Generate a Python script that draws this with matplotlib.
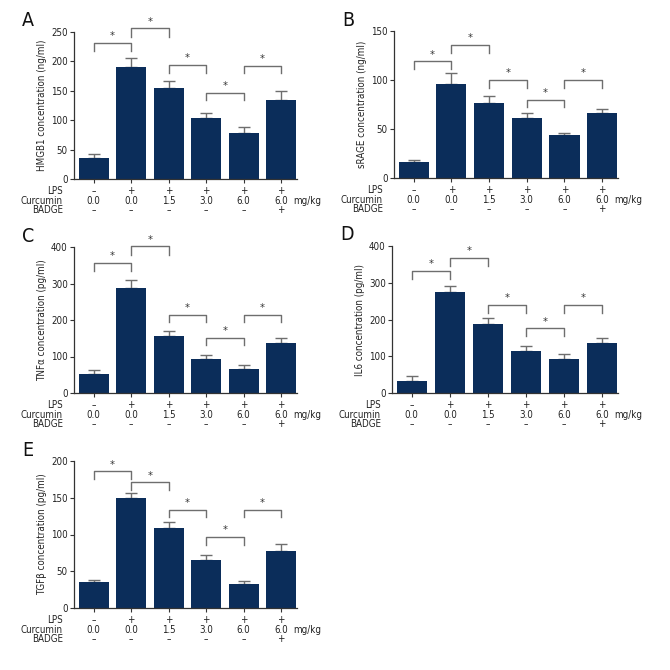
import matplotlib
matplotlib.use("Agg")
import matplotlib.pyplot as plt
from matplotlib import font_manager as fm

cands = [f for f in fm.fontManager.ttflist
         if ('Narrow' in f.name or 'ondensed' in str(f.stretch) or 'Condensed' in f.fname)]
if any(f.name == 'Liberation Sans Narrow' for f in cands):
    FAM = ['Liberation Sans Narrow', 'DejaVu Sans']
    STRETCH = 'normal'
elif any(f.name == 'DejaVu Sans' for f in cands):
    FAM = ['DejaVu Sans']
    STRETCH = 'condensed'
else:
    FAM = ['DejaVu Sans']
    STRETCH = 'normal'
plt.rcParams['font.family'] = FAM
plt.rcParams['font.stretch'] = STRETCH

# ---- data ----
groups = [0, 1, 2, 3, 4, 5]
lps_row = ["–", "+", "+", "+", "+", "+"]
curcumin_row = ["0.0", "0.0", "1.5", "3.0", "6.0", "6.0"]
badge_row = ["–", "–", "–", "–", "–", "+"]

hmgb1_mean = [36, 190, 155, 104, 79, 135]
hmgb1_err = [7, 15, 12, 9, 10, 15]
srage_mean = [16, 96, 77, 61, 43.5, 66]
srage_err = [2.5, 11, 7, 5, 2.5, 4]
tnfa_mean = [52, 289, 155, 93, 66, 136]
tnfa_err = [10, 21, 14, 12, 12, 16]
il6_mean = [33, 274, 187, 114, 92, 136]
il6_err = [12, 18, 18, 15, 14, 15]
tgfb_mean = [35, 149, 109, 65, 32, 78]
tgfb_err = [3.5, 8, 7.5, 7, 5, 9.5]

ylabels = ["HMGB1 concentration (ng/ml)", "sRAGE concentration (ng/ml)",
           "TNFα concentration (pg/ml)", "IL6 concentration (pg/ml)",
           "TGFβ concentration (pg/ml)"]
letters = ["A", "B", "C", "D", "E"]
yticks = [[0, 50, 100, 150, 200, 250], [0, 50, 100, 150], [0, 100, 200, 300, 400],
          [0, 100, 200, 300, 400], [0, 50, 100, 150, 200]]

# significance brackets: (i, j, top y, leg bottom y)
brackets_A = [(0, 1, 232, 218), (1, 2, 256, 242), (2, 3, 194, 181), (3, 4, 147, 134), (4, 5, 192, 180)]
brackets_B = [(0, 1, 119, 111.5), (1, 2, 136, 128), (2, 3, 100, 92), (3, 4, 80, 72), (4, 5, 100, 92)]
brackets_C = [(0, 1, 356, 334), (1, 2, 402, 379), (2, 3, 215, 195), (3, 4, 152, 131), (4, 5, 215, 195)]
brackets_D = [(0, 1, 333, 311), (1, 2, 368, 346), (2, 3, 239, 217), (3, 4, 176, 154), (4, 5, 239, 217)]
brackets_E = [(0, 1, 186, 175), (1, 2, 171, 160), (2, 3, 134, 124), (3, 4, 97, 86), (4, 5, 134, 124)]

panels = [
    (hmgb1_mean, hmgb1_err, brackets_A, [74, 32, 297, 179]),
    (srage_mean, srage_err, brackets_B, [394, 31, 618, 178]),
    (tnfa_mean, tnfa_err, brackets_C, [74, 247, 297, 393]),
    (il6_mean, il6_err, brackets_D, [392, 246, 618, 393]),
    (tgfb_mean, tgfb_err, brackets_E, [74, 461, 297, 608]),
]

BAR = '#0b2d5a'
GREY = '#6e6e6e'
TXT = '#222222'
FS = 7.0
W = H = 670.0

fig = plt.figure(figsize=(6.7, 6.7), dpi=100)
for k, (mean, err, brk, box) in enumerate(panels):
    x0, y0, x1, y1 = box
    ax = fig.add_axes([x0 / W, 1 - y1 / H, (x1 - x0) / W, (y1 - y0) / H])
    ax.bar(groups, mean, width=0.8, color=BAR, zorder=2)
    ax.errorbar(groups, mean, yerr=[[0] * 6, err], fmt='none', ecolor=GREY,
                elinewidth=1.0, capsize=4.5, capthick=1.0, zorder=1)
    ymax = yticks[k][-1]
    ax.set_ylim(0, ymax)
    ax.set_xlim(-0.52, 5.42)
    ax.set_yticks(yticks[k])
    ax.set_yticklabels([str(t) for t in yticks[k]], fontsize=FS, color=TXT)
    ax.set_xticks(groups)
    ax.set_xticklabels([])
    ax.tick_params(axis='both', length=3, width=0.8, color='#333333', pad=1.5)
    for s in ['top', 'right']:
        ax.spines[s].set_visible(False)
    for s in ['left', 'bottom']:
        ax.spines[s].set_linewidth(0.9)
        ax.spines[s].set_color('#333333')
    ax.set_ylabel(ylabels[k], fontsize=FS, labelpad=3, color=TXT)
    for (i, j, top, low) in brk:
        ax.plot([i, i, j, j], [low, top, top, low], color=GREY, lw=1.0, clip_on=False)
        ax.text((i + j) / 2, top + ymax * 0.012, "*", ha='center', va='bottom',
                fontsize=8, color='#333333', clip_on=False)
    # treatment rows below axis (pixel offsets below the x axis)
    hpx = (y1 - y0)
    wpx = (x1 - x0)
    rows = [("LPS", lps_row, 12), ("Curcumin", curcumin_row, 22), ("BADGE", badge_row, 31)]
    tr = ax.get_xaxis_transform()
    for name, vals, off in rows:
        yf = -off / hpx
        ax.text(-11 / wpx, yf, name, transform=ax.transAxes,
                ha='right', va='center', fontsize=FS, color=TXT, clip_on=False)
        for g, v in zip(groups, vals):
            ax.text(g, yf, v, transform=tr, ha='center', va='center',
                    fontsize=FS, color=TXT, clip_on=False)
    ax.text(5.33, -22 / hpx, "mg/kg", transform=tr, ha='left',
            va='center', fontsize=FS, color=TXT, clip_on=False)
    # panel letter
    fig.text((x0 - 52) / W, 1 - (y0 - 11) / H, letters[k], fontsize=14,
             ha='left', va='center', color='#111111')

fig.savefig("out.png", dpi=100, facecolor='white')
